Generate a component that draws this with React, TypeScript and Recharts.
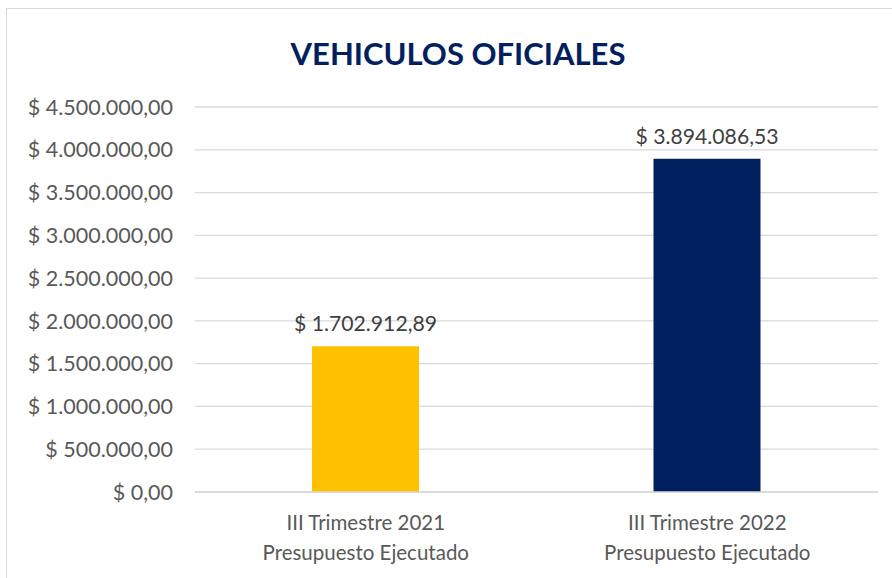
import { BarChart, Bar, XAxis, YAxis, CartesianGrid, LabelList, Cell } from "recharts";

const TITLE = "VEHICULOS OFICIALES";
const PERIODS = ["III Trimestre 2021", "III Trimestre 2022"];
const SUBTITLES = ["Presupuesto Ejecutado", "Presupuesto Ejecutado"];
const AMOUNTS = [1702912.89, 3894086.53];
const BAR_COLORS = ["#FFC000", "#002060"];
const Y_TICKS = [0, 500000, 1000000, 1500000, 2000000, 2500000, 3000000, 3500000, 4000000, 4500000];

const FONT = "Lato, 'Open Sans', sans-serif";
const TEXT_COLOR = "#595959";
const GRID_COLOR = "#d9d9d9";

const data = PERIODS.map((p, i) => ({ name: p, sub: SUBTITLES[i], value: AMOUNTS[i] }));

function money(v: number) {
  const [int, dec] = v.toFixed(2).split(".");
  return "$ " + int.replace(/\B(?=(\d{3})+(?!\d))/g, ".") + "," + dec;
}

function CategoryTick({ x, y, payload, index }: any) {
  return (
    <g transform={`translate(${x},${y})`}>
      <text textAnchor="middle" fill={TEXT_COLOR} fontFamily={FONT} fontSize={20.5}>
        <tspan x={0} dy={30}>{payload.value}</tspan>
        <tspan x={0} dy={30}>{SUBTITLES[index] ?? ""}</tspan>
      </text>
    </g>
  );
}

export default function App() {
  return (
    <div style={{ position: "absolute", left: 0, top: 0, width: 892, height: 578, overflow: "hidden", background: "#fff" }}>
      <div
        style={{
          position: "absolute",
          left: 6,
          top: 8,
          width: 900,
          height: 600,
          border: `1px solid ${GRID_COLOR}`,
        }}
      />
      <div
        style={{
          position: "absolute",
          left: 0,
          width: 916,
          top: 33,
          textAlign: "center",
          fontFamily: FONT,
          fontWeight: 700,
          fontSize: 31,
          color: "#002060",
          lineHeight: "40px",
        }}
      >
        {TITLE}
      </div>
      <BarChart
        width={892}
        height={578}
        data={data}
        margin={{ top: 107, right: 14, bottom: 0, left: 0 }}
        style={{ position: "absolute", left: 0, top: 0 }}
      >
        <CartesianGrid stroke={GRID_COLOR} strokeWidth={1.3} vertical={false} />
        <XAxis
          dataKey="name"
          height={86}
          axisLine={{ stroke: GRID_COLOR, strokeWidth: 1.3 }}
          tickLine={false}
          tick={<CategoryTick />}
          interval={0}
        />
        <YAxis
          width={195}
          domain={[0, 4500000]}
          ticks={Y_TICKS}
          tickFormatter={money}
          axisLine={false}
          tickLine={false}
          tickSize={0}
          tickMargin={22}
          tick={{ fill: TEXT_COLOR, fontFamily: FONT, fontSize: 21.5 }}
        />
        <Bar dataKey="value" barSize={107} isAnimationActive={false}>
          {data.map((_, i) => (
            <Cell key={i} fill={BAR_COLORS[i]} />
          ))}
          <LabelList
            dataKey="value"
            position="top"
            offset={15}
            formatter={(v: any) => money(Number(v))}
            fill="#404040"
            fontFamily={FONT}
            fontSize={21.2}
          />
        </Bar>
      </BarChart>
    </div>
  );
}
